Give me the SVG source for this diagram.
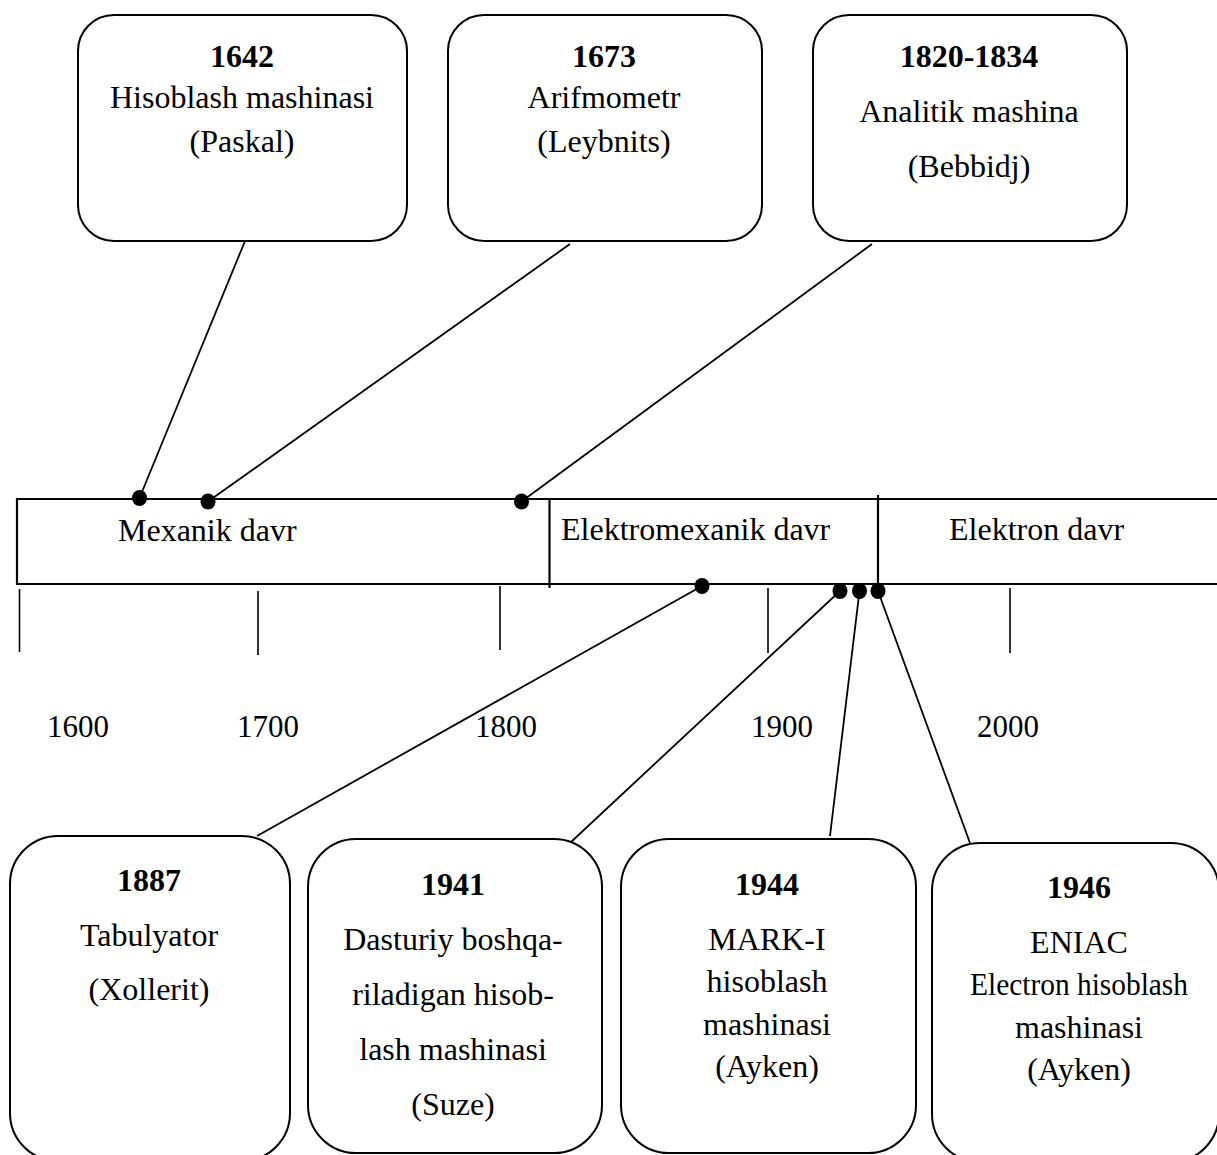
<svg xmlns="http://www.w3.org/2000/svg" width="1217" height="1155" viewBox="0 0 1217 1155">
  <style>
    text { font-family: "Liberation Serif", "Times New Roman", serif; font-size: 32px; fill: #000; text-anchor: middle; }
    .yr { font-weight: bold; }
    .era { text-anchor: start; }
    .tick-label { font-size: 31px; }
    .box { fill: #fff; stroke: #000; stroke-width: 2; }
    .band { fill: none; stroke: #000; stroke-width: 2.2; }
    .tick { stroke: #000; stroke-width: 1.6; }
    .link { stroke: #000; stroke-width: 1.8; fill: none; }
    .dot { fill: #000; }
  </style>

  <!-- time band -->
  <g id="timeline">
    <path class="band" d="M1217,499 H17 V584 H1217"/>
    <line class="band" x1="549.5" y1="499" x2="549.5" y2="588"/>
    <line class="band" x1="878" y1="495" x2="878" y2="590"/>
    <text class="era" x="118" y="541">Mexanik davr</text>
    <text class="era" x="561" y="540">Elektromexanik davr</text>
    <text class="era" x="949" y="540">Elektron davr</text>
  </g>

  <!-- century scale -->
  <g id="scale">
    <line class="tick" x1="19.5" y1="589" x2="19.5" y2="652"/>
    <line class="tick" x1="258" y1="591" x2="258" y2="655"/>
    <line class="tick" x1="500" y1="586" x2="500" y2="650"/>
    <line class="tick" x1="768" y1="588" x2="768" y2="653"/>
    <line class="tick" x1="1010" y1="588" x2="1010" y2="653"/>
    <text class="tick-label" x="78" y="737">1600</text>
    <text class="tick-label" x="268" y="737">1700</text>
    <text class="tick-label" x="506" y="737">1800</text>
    <text class="tick-label" x="782" y="737">1900</text>
    <text class="tick-label" x="1008" y="737">2000</text>
  </g>

  <!-- connectors from events to the band -->
  <g id="connectors">
    <line class="link" x1="245" y1="241" x2="139.5" y2="498"/>
    <line class="link" x1="570" y1="244" x2="208" y2="501.5"/>
    <line class="link" x1="872" y1="244" x2="521.5" y2="501.5"/>
    <line class="link" x1="702" y1="586" x2="257" y2="836"/>
    <line class="link" x1="840" y1="591" x2="571" y2="842"/>
    <line class="link" x1="859.5" y1="591" x2="830" y2="836"/>
    <line class="link" x1="878" y1="591" x2="970" y2="843"/>
    <ellipse class="dot" cx="139.5" cy="498" rx="7.5" ry="8"/>
    <ellipse class="dot" cx="208" cy="501.5" rx="7.5" ry="8"/>
    <ellipse class="dot" cx="521.5" cy="501.5" rx="7.5" ry="8"/>
    <ellipse class="dot" cx="702" cy="586" rx="7.5" ry="8"/>
    <ellipse class="dot" cx="840" cy="591" rx="7.5" ry="8"/>
    <ellipse class="dot" cx="859.5" cy="591" rx="7.5" ry="8"/>
    <ellipse class="dot" cx="878" cy="591" rx="7.5" ry="8"/>
  </g>

  <!-- upper events -->
  <g id="ev1642">
    <rect class="box" x="78" y="15" width="329" height="226" rx="36" ry="36"/>
    <text class="yr" x="242" y="67">1642</text>
    <text x="242" y="108">Hisoblash mashinasi</text>
    <text x="242" y="152">(Paskal)</text>
  </g>
  <g id="ev1673">
    <rect class="box" x="448" y="15" width="314" height="226" rx="36" ry="36"/>
    <text class="yr" x="604" y="67">1673</text>
    <text x="604" y="108">Arifmometr</text>
    <text x="604" y="152">(Leybnits)</text>
  </g>
  <g id="ev1820">
    <rect class="box" x="813" y="15" width="314" height="226" rx="36" ry="36"/>
    <text class="yr" x="969" y="67">1820-1834</text>
    <text x="969" y="122">Analitik mashina</text>
    <text x="969" y="177">(Bebbidj)</text>
  </g>

  <!-- lower events -->
  <g id="ev1887">
    <rect class="box" x="10" y="836" width="280" height="325" rx="48" ry="48"/>
    <text class="yr" x="149" y="891">1887</text>
    <text x="149" y="946">Tabulyator</text>
    <text x="149" y="1000">(Xollerit)</text>
  </g>
  <g id="ev1941">
    <rect class="box" x="308" y="839" width="294" height="314" rx="48" ry="48"/>
    <text class="yr" x="453" y="895">1941</text>
    <text x="453" y="950">Dasturiy boshqa-</text>
    <text x="453" y="1005">riladigan hisob-</text>
    <text x="453" y="1060">lash mashinasi</text>
    <text x="453" y="1115">(Suze)</text>
  </g>
  <g id="ev1944">
    <rect class="box" x="621" y="839" width="295" height="314" rx="48" ry="48"/>
    <text class="yr" x="767" y="895">1944</text>
    <text x="767" y="950">MARK-I</text>
    <text x="767" y="992">hisoblash</text>
    <text x="767" y="1035">mashinasi</text>
    <text x="767" y="1077">(Ayken)</text>
  </g>
  <g id="ev1946">
    <rect class="box" x="932" y="843" width="287" height="319" rx="48" ry="48"/>
    <text class="yr" x="1079" y="898">1946</text>
    <text x="1079" y="953">ENIAC</text>
    <text x="1079" y="995" textLength="218" lengthAdjust="spacingAndGlyphs">Electron hisoblash</text>
    <text x="1079" y="1038">mashinasi</text>
    <text x="1079" y="1080">(Ayken)</text>
  </g>
</svg>
